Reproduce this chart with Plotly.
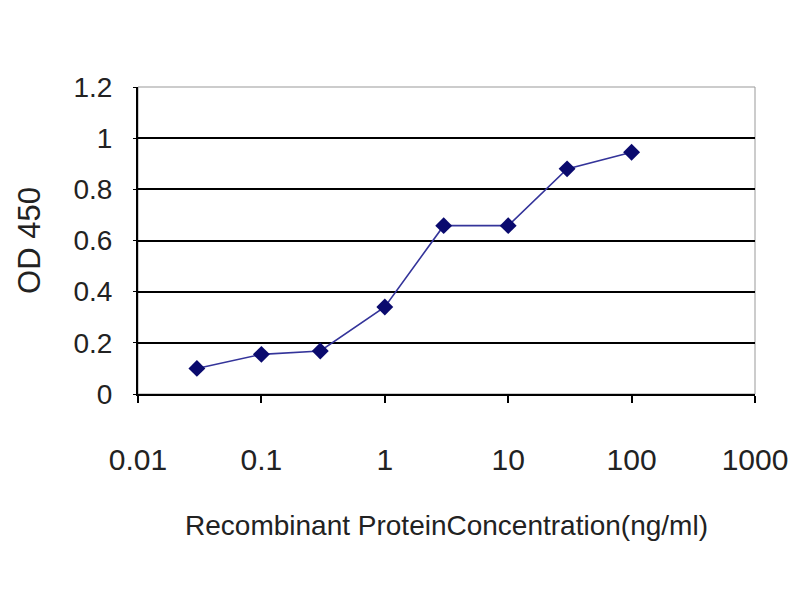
import plotly.graph_objects as go

concentration = [0.03, 0.1, 0.3, 1, 3, 10, 30, 100]
od450 = [0.10, 0.155, 0.168, 0.34, 0.658, 0.658, 0.88, 0.945]
x_tick_vals = [0.01, 0.1, 1, 10, 100, 1000]
x_tick_text = ["0.01", "0.1", "1", "10", "100", "1000"]
y_tick_vals = [0, 0.2, 0.4, 0.6, 0.8, 1.0, 1.2]
y_tick_text = ["0", "0.2", "0.4", "0.6", "0.8", "1", "1.2"]
grid_vals = [0.2, 0.4, 0.6, 0.8, 1.0]

ARIAL = "Liberation Sans, Arial, sans-serif"

fig = go.Figure()
# invisible trace to activate grid axis
fig.add_trace(go.Scatter(x=[0.01], y=[0], yaxis="y2", mode="markers",
                         marker=dict(opacity=0), showlegend=False, hoverinfo="skip"))
fig.add_trace(go.Scatter(
    x=concentration, y=od450, mode="lines+markers",
    line=dict(color="#34349a", width=1.6),
    marker=dict(symbol="diamond", size=13, color="#0a0a6e"),
    showlegend=False,
))

fig.update_layout(
    width=800, height=600,
    margin=dict(l=130, r=53, t=79, b=214, autoexpand=False),
    paper_bgcolor="white", plot_bgcolor="white",
    xaxis=dict(
        type="log", range=[-2, 3], automargin=False,
        tickvals=x_tick_vals, ticktext=x_tick_text,
        ticks="outside", ticklen=7, tickwidth=1.5, tickcolor="black",
        showline=True, linecolor="black", linewidth=2,
        showgrid=False, zeroline=False,
        tickfont=dict(family=ARIAL, size=30, color="#222"),
        ticklabelstandoff=31,
        title=dict(text="Recombinant ProteinConcentration(ng/ml)",
                   font=dict(family=ARIAL, size=28, color="#222"), standoff=40),
    ),
    yaxis=dict(
        range=[0, 1.2], automargin=False,
        tickvals=y_tick_vals, ticktext=y_tick_text,
        ticks="outside", ticklen=3, tickcolor="black",
        showline=True, linecolor="black", linewidth=2,
        showgrid=False, zeroline=False,
        tickfont=dict(family=ARIAL, size=28, color="#222"),
        ticklabelstandoff=15,
        title=dict(text="OD 450", font=dict(family=ARIAL, size=31, color="#222"), standoff=24),
    ),
    yaxis2=dict(
        range=[0, 1.2], overlaying="y", side="left", automargin=False,
        tickvals=grid_vals, showticklabels=False, ticks="",
        showgrid=True, gridcolor="black", gridwidth=2.2,
        zeroline=False, showline=False,
    ),
    shapes=[dict(type="rect", xref="paper", yref="paper", x0=0, x1=1, y0=0, y1=1,
                 line=dict(color="#999", width=1), layer="below")],
)

fig.write_html("out.html")
